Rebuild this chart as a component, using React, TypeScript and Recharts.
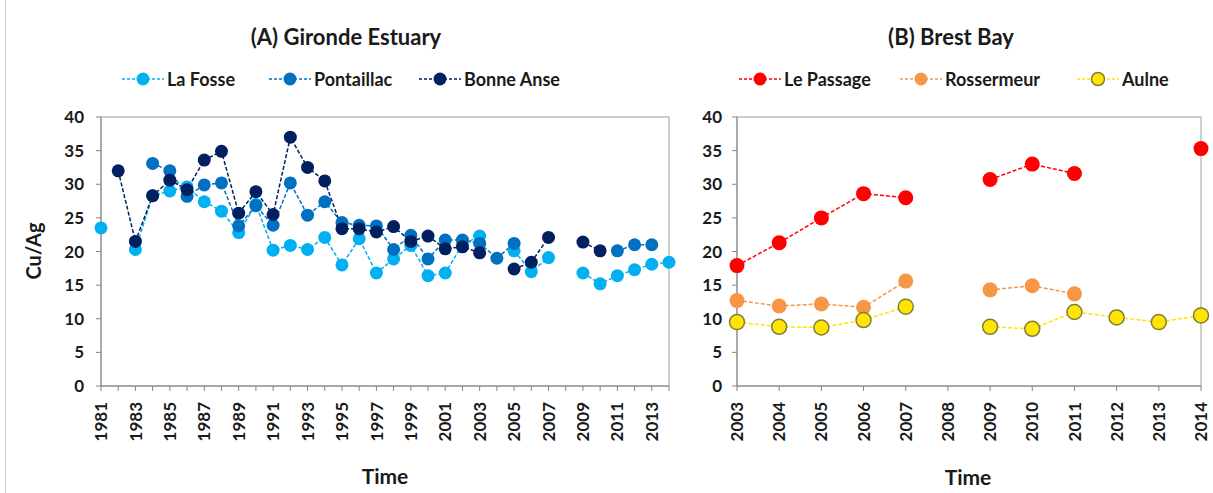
import { LineChart, Line, XAxis, YAxis, ReferenceArea } from 'recharts'

const yearsA = [1981, 1982, 1983, 1984, 1985, 1986, 1987, 1988, 1989, 1990, 1991, 1992, 1993, 1994, 1995, 1996, 1997,
  1998, 1999, 2000, 2001, 2002, 2003, 2004, 2005, 2006, 2007, 2008, 2009, 2010, 2011, 2012, 2013, 2014]
const laFosse = [23.5, null, 20.3, 28.3, 29.0, 29.6, 27.4, 26.0, 22.8, 27.0, 20.2, 20.9, 20.3, 22.1, 18.0, 21.9, 16.8,
  18.9, 20.9, 16.4, 16.8, 21.0, 22.3, null, 20.1, 17.0, 19.1, null, 16.8, 15.2, 16.4, 17.3, 18.1, 18.4]
const pontaillac = [null, null, null, 33.1, 32.0, 28.2, 29.9, 30.2, 23.8, 26.8, 23.9, 30.2, 25.4, 27.4, 24.3, 23.9, 23.8,
  20.3, 22.4, 18.9, 21.7, 21.7, 21.2, 19.0, 21.2, null, null, null, null, null, 20.1, 21.0, 21.0, null]
const bonneAnse = [null, 32.0, 21.5, 28.3, 30.6, 29.2, 33.6, 34.9, 25.7, 28.9, 25.5, 37.0, 32.5, 30.5, 23.4, 23.4, 22.9,
  23.7, 21.5, 22.3, 20.4, 20.7, 19.8, null, 17.4, 18.4, 22.1, null, 21.4, 20.1, null, null, null, null]
const labelYearsA = [1981, 1983, 1985, 1987, 1989, 1991, 1993, 1995, 1997, 1999, 2001, 2003, 2005, 2007, 2009, 2011, 2013]

const yearsB = [2003, 2004, 2005, 2006, 2007, 2008, 2009, 2010, 2011, 2012, 2013, 2014]
const lePassage = [17.9, 21.3, 25.0, 28.6, 28.0, null, 30.7, 33.0, 31.6, null, null, 35.3]
const rossermeur = [12.7, 11.9, 12.2, 11.7, 15.6, null, 14.3, 14.9, 13.7, null, null, null]
const aulne = [9.5, 8.8, 8.7, 9.8, 11.8, null, 8.8, 8.5, 11.0, 10.2, 9.5, 10.5]

const yTicks = [0, 5, 10, 15, 20, 25, 30, 35, 40]

const dataA = yearsA.map((year, i) => ({ year, laFosse: laFosse[i], pontaillac: pontaillac[i], bonneAnse: bonneAnse[i] }))
const dataB = yearsB.map((year, i) => ({ year, lePassage: lePassage[i], rossermeur: rossermeur[i], aulne: aulne[i] }))

const FONT = 'Lato, "Open Sans", sans-serif'
const AXIS = '#868686'
const FRAME = '#bfbfbf'
const INK = '#1a1a1a'

const seriesA = [
  { key: 'laFosse', name: 'La Fosse', color: '#00b0f0', stroke: 'none' },
  { key: 'pontaillac', name: 'Pontaillac', color: '#0070c0', stroke: 'none' },
  { key: 'bonneAnse', name: 'Bonne Anse', color: '#002060', stroke: 'none' },
]
const seriesB = [
  { key: 'lePassage', name: 'Le Passage', color: '#ff0000', stroke: 'none' },
  { key: 'rossermeur', name: 'Rossermeur', color: '#f79646', stroke: 'none' },
  { key: 'aulne', name: 'Aulne', color: '#ffe500', stroke: '#7f7f3a' },
]

const RotTick = ({ x, y, payload, show }: any) => {
  if (!show.includes(payload.value)) return null
  return (
    <text transform={`translate(${x},${y + 9}) rotate(-90)`} textAnchor="end" dy="0.36em"
      fontFamily={FONT} fontWeight={700} fontSize={17} fill={INK}>{payload.value}</text>
  )
}

const yTickStyle = { fontFamily: FONT, fontWeight: 700, fontSize: 17, fill: INK }

function LegendItem({ x, color, stroke, label }: { x: number; color: string; stroke: string; label: string }) {
  return (
    <div style={{ position: 'absolute', left: x, top: 69, height: 20, display: 'flex', alignItems: 'center', whiteSpace: 'nowrap' }}>
      <svg width={42} height={20}>
        <line x1={0} y1={10} x2={42} y2={10} stroke={color} strokeWidth={1.5} strokeDasharray="3 2" />
        <circle cx={21} cy={10} r={6.5} fill={color} stroke={stroke} strokeWidth={stroke === 'none' ? 0 : 1.5} />
      </svg>
      <span style={{ marginLeft: 3, fontFamily: FONT, fontWeight: 700, fontSize: 18, color: INK }}>{label}</span>
    </div>
  )
}

const textStyle = (extra: any) => ({ position: 'absolute' as const, fontFamily: FONT, fontWeight: 700, color: INK, whiteSpace: 'nowrap' as const, lineHeight: 1, ...extra })

export default function App() {
  return (
    <div style={{ position: 'absolute', left: 0, top: 0, width: 1213, height: 493, background: '#fff', overflow: 'hidden' }}>
      <div style={{ position: 'absolute', left: 5, top: 0, width: 1, height: 493, background: '#d0d0d0' }} />

      <div style={textStyle({ left: 346, top: 26, fontSize: 22, transform: 'translateX(-50%)' })}>(A) Gironde Estuary</div>
      <div style={textStyle({ left: 951, top: 26, fontSize: 22, transform: 'translateX(-50%)' })}>(B) Brest Bay</div>

      <LegendItem x={122} {...seriesA[0]} label={seriesA[0].name} />
      <LegendItem x={269} {...seriesA[1]} label={seriesA[1].name} />
      <LegendItem x={419} {...seriesA[2]} label={seriesA[2].name} />
      <LegendItem x={739} {...seriesB[0]} label={seriesB[0].name} />
      <LegendItem x={900} {...seriesB[1]} label={seriesB[1].name} />
      <LegendItem x={1077} {...seriesB[2]} label={seriesB[2].name} />

      <div style={textStyle({ left: 33, top: 251, fontSize: 20, transform: 'translate(-50%,-50%) rotate(-90deg)' })}>Cu/Ag</div>
      <div style={textStyle({ left: 385, top: 465, fontSize: 21, transform: 'translateX(-50%)' })}>Time</div>
      <div style={textStyle({ left: 968, top: 466, fontSize: 21, transform: 'translateX(-50%)' })}>Time</div>

      <div style={{ position: 'absolute', left: 0, top: 0 }}>
        <LineChart width={690} height={493} data={dataA} margin={{ top: 117, right: 21, bottom: 0, left: 0 }}>
          <ReferenceArea x1={1981} x2={2014} y1={0} y2={40} fill="none" stroke={FRAME} strokeWidth={1.5} ifOverflow="visible" />
          <XAxis dataKey="year" type="number" domain={[1981, 2014]} ticks={yearsA} interval={0} height={107}
            tickSize={5} stroke={AXIS} tickLine={{ stroke: AXIS }} tick={<RotTick show={labelYearsA} />} />
          <YAxis domain={[0, 40]} ticks={yTicks} width={101} tickSize={5} stroke={AXIS} tick={yTickStyle} tickMargin={12} />
          {seriesA.map(s => (
            <Line key={s.key} dataKey={s.key} stroke={s.color} strokeWidth={1.5} strokeDasharray="4 2"
              dot={{ r: 6.5, fill: s.color, stroke: s.color, strokeWidth: 0, strokeDasharray: '0' }} activeDot={false}
              isAnimationActive={false} connectNulls={false} />
          ))}
        </LineChart>
      </div>

      <div style={{ position: 'absolute', left: 690, top: 0 }}>
        <LineChart width={523} height={493} data={dataB} margin={{ top: 117, right: 12, bottom: 0, left: 0 }}>
          <ReferenceArea x1={2003} x2={2014} y1={0} y2={40} fill="none" stroke={FRAME} strokeWidth={1.5} ifOverflow="visible" />
          <XAxis dataKey="year" type="number" domain={[2003, 2014]} ticks={yearsB} interval={0} height={107}
            tickSize={5} stroke={AXIS} tickLine={{ stroke: AXIS }} tick={<RotTick show={yearsB} />} />
          <YAxis domain={[0, 40]} ticks={yTicks} width={47} tickSize={5} stroke={AXIS} tick={yTickStyle} tickMargin={10} />
          {seriesB.map(s => (
            <Line key={s.key} dataKey={s.key} stroke={s.color} strokeWidth={1.5} strokeDasharray="4 2"
              dot={{ r: 7.5, fill: s.color, stroke: s.stroke, strokeWidth: s.stroke === 'none' ? 0 : 1.5, strokeDasharray: '0' }}
              activeDot={false} isAnimationActive={false} connectNulls={false} />
          ))}
        </LineChart>
      </div>
    </div>
  )
}
